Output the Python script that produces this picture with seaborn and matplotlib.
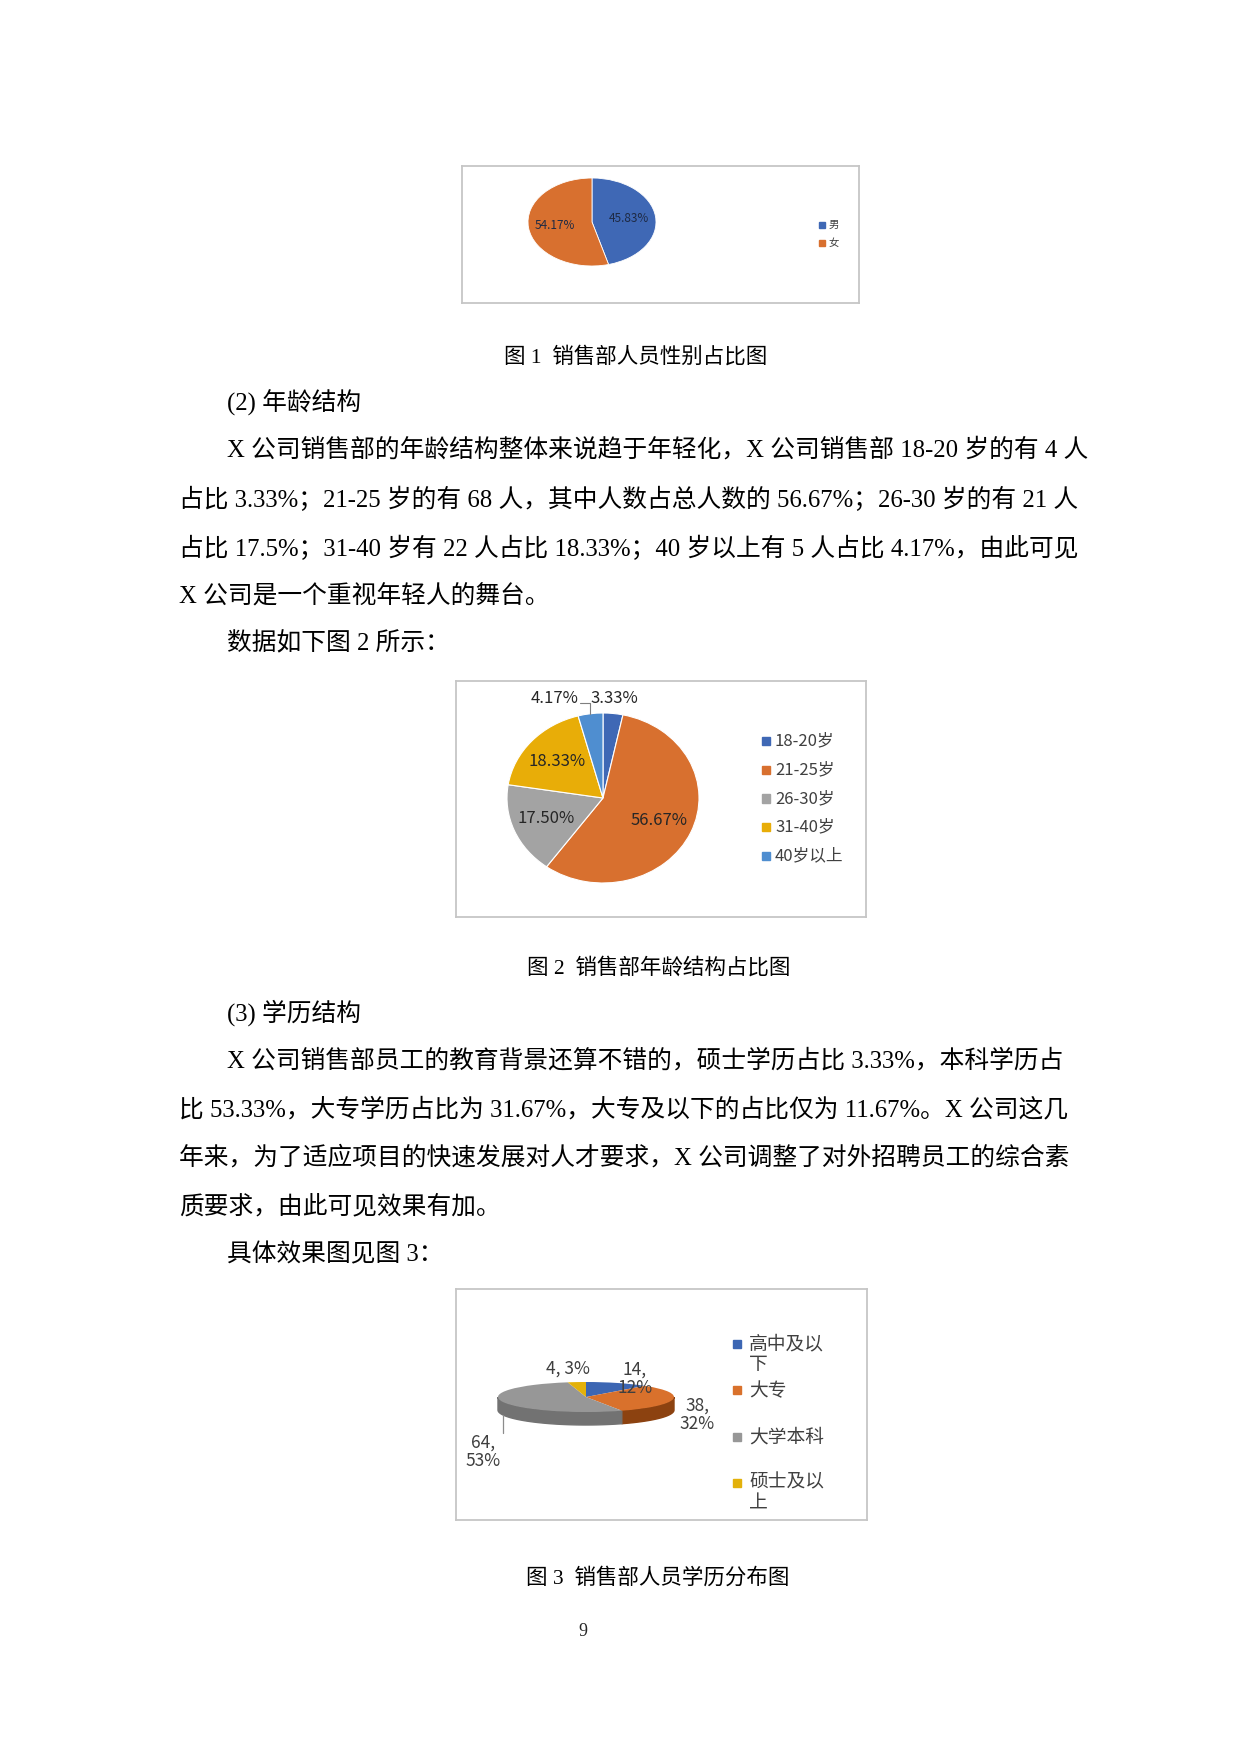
import numpy as np
import seaborn as sns
from matplotlib import pyplot as plt
from matplotlib.patches import Rectangle, Polygon

W, H = 1240, 1754

# 图1 销售部人员性别占比
gender_labels = ['男', '女']
gender_pct = [45.83, 54.17]
gender_colors = ['#3F68B5', '#D8702F']

# 图2 销售部年龄结构占比
age_labels = ['18-20岁', '21-25岁', '26-30岁', '31-40岁', '40岁以上']
age_pct = [3.33, 56.67, 17.50, 18.33, 4.17]
age_colors = ['#3F68B5', '#D8702F', '#A3A3A3', '#E8AD08', '#4F8ED0']

# 图3 销售部人员学历分布
edu_labels = ['高中及以\n下', '大专', '大学本科', '硕士及以\n上']
edu_counts = [14, 38, 64, 4]
edu_pct = [12, 32, 53, 3]
edu_colors = ['#3C66B3', '#D9712C', '#979797', '#E3B10A']
edu_side = ['#27457A', '#8C4210', '#727272', '#9A7A05']

# body text lines: (x, y, text)
body = [
    (227, 403, '(2) 年龄结构'),
    (227, 450, 'X 公司销售部的年龄结构整体来说趋于年轻化，X 公司销售部 18-20 岁的有 4 人'),
    (179, 499, '占比 3.33%；21-25 岁的有 68 人，其中人数占总人数的 56.67%；26-30 岁的有 21 人'),
    (179, 548, '占比 17.5%；31-40 岁有 22 人占比 18.33%；40 岁以上有 5 人占比 4.17%，由此可见'),
    (179, 597, 'X 公司是一个重视年轻人的舞台。'),
    (227, 644, '数据如下图 2 所示：'),
    (227, 1013, '(3) 学历结构'),
    (227, 1061, 'X 公司销售部员工的教育背景还算不错的，硕士学历占比 3.33%，本科学历占'),
    (179, 1110, '比 53.33%，大专学历占比为 31.67%，大专及以下的占比仅为 11.67%。X 公司这几'),
    (179, 1158, '年来，为了适应项目的快速发展对人才要求，X 公司调整了对外招聘员工的综合素'),
    (179, 1207, '质要求，由此可见效果有加。'),
    (227, 1255, '具体效果图见图 3：'),
]
captions = [
    (504, 357, '图 1  销售部人员性别占比图'),
    (527, 968, '图 2  销售部年龄结构占比图'),
    (526, 1578, '图 3  销售部人员学历分布图'),
]

sns.set_theme(style='white')
plt.rcParams['font.family'] = ['Noto Sans CJK SC', 'DejaVu Sans']
serif = ['Liberation Serif', 'Noto Sans CJK SC']

fig = plt.figure(figsize=(12.4, 17.54), dpi=100, facecolor='white')


def fx(x):
    return x / W


def fy(y):
    return 1 - y / H


def px_axes(x0, y0, x1, y1):
    return fig.add_axes([fx(x0), fy(y1), (x1 - x0) / W, (y1 - y0) / H])


def chart_box(x0, y0, x1, y1):
    ax = px_axes(x0, y0, x1, y1)
    ax.set_xticks([])
    ax.set_yticks([])
    for s in ax.spines.values():
        s.set_visible(True)
        s.set_color('#C6C6C6')
        s.set_linewidth(1.3)
    return ax


def legend_rows(labels, colors, x, y0, step, size, fs, gap=5, lgap=0.95, ls=1.2):
    for i, (lab, c) in enumerate(zip(labels, colors)):
        y = y0 + i * step
        fig.patches.append(Rectangle((fx(x - size / 2), fy(y + size / 2)), size / W, size / H,
                                     transform=fig.transFigure, color=c, figure=fig))
        n = lab.count('\n')
        fig.text(fx(x + size / 2 + gap), fy(y + n * fs * lgap), lab, fontsize=fs,
                 va='center', ha='left', color='#404040', linespacing=ls)


# text
for x, y, t in body:
    fig.text(fx(x), fy(y), t, fontsize=17.8, family=serif, va='center', ha='left', color='black')
for x, y, t in captions:
    fig.text(fx(x), fy(y), t, fontsize=15.5, family=serif, va='center', ha='left', color='black')
fig.text(fx(583), fy(1632), '9', fontsize=13, family=serif, va='center', ha='center')

# ---- 图1
chart_box(462, 166, 859, 303)
ax1 = px_axes(528, 178, 656, 266)
ax1.pie(gender_pct, colors=gender_colors, startangle=90, counterclock=False,
        autopct='%.2f%%', pctdistance=0.58,
        wedgeprops=dict(edgecolor='white', linewidth=0.6),
        textprops=dict(fontsize=8.5, color='#1E2A44'))
ax1.set_aspect('auto')
ax1.set_xlim(-1, 1)
ax1.set_ylim(-1, 1)
legend_rows(gender_labels, gender_colors, 822, 225, 18, 6, 7.5, gap=4)

# ---- 图2
chart_box(456, 681, 866, 917)
ax2 = px_axes(507, 713, 699, 883)
ax2.pie(age_pct, colors=age_colors, startangle=90, counterclock=False,
        autopct=lambda p: f'{p:.2f}%' if p > 5 else '', pctdistance=0.64,
        wedgeprops=dict(edgecolor='white', linewidth=0.8),
        textprops=dict(fontsize=12, color='#262626'))
ax2.set_aspect('auto')
ax2.set_xlim(-1, 1)
ax2.set_ylim(-1, 1)
cum = np.cumsum([0] + age_pct[:-1])
mids = np.radians(90 - 3.6 * (cum + np.array(age_pct) / 2))
# small slices labelled outside
ax2.text(0.12, 1.17, f'{age_pct[0]:.2f}%', fontsize=12, color='#262626', ha='center', va='center')
ax2.text(-0.26, 1.17, f'{age_pct[4]:.2f}%', fontsize=12, color='#262626', ha='right', va='center')
mx, my = np.cos(mids[4]), np.sin(mids[4])
ax2.plot([-0.24, mx, mx], [1.12, 1.12, my], color='#7F7F7F', lw=0.8, clip_on=False)
legend_rows(age_labels, age_colors, 766, 741, 28.75, 8, 12)

# ---- 图3 (flattened 3D pie)
chart_box(456, 1289, 867, 1520)
rx, ry, depth = 88, 15, 13
d = depth / ry
ax3 = px_axes(586 - rx, 1397 - ry, 586 + rx, 1397 + ry + depth)
ax3.pie(edu_counts, colors=edu_colors, startangle=90, counterclock=False,
        wedgeprops=dict(edgecolor='none'))
ax3.set_aspect('auto')
ax3.set_xlim(-1, 1)
ax3.set_ylim(-1 - d, 1)
frac = np.array(edu_counts) / sum(edu_counts)
ends = 90 - 360 * np.cumsum(frac)
starts = np.r_[90, ends[:-1]]
for a0, a1, c in zip(starts, ends, edu_side):
    for off in (0, -360, 360):
        lo, hi = max(a1 + off, -180), min(a0 + off, 0)
        if hi > lo:
            t = np.radians(np.linspace(lo, hi, 80))
            xs = np.r_[np.cos(t), np.cos(t[::-1])]
            ys = np.r_[np.sin(t), np.sin(t[::-1]) - d]
            ax3.add_patch(Polygon(np.c_[xs, ys], closed=True, color=c, zorder=0.5, clip_on=False))
lt = np.radians(-160)
ax3.plot([np.cos(lt)] * 2, [np.sin(lt) - d, -2.4], color='#8C8C8C', lw=0.9, clip_on=False)

edu_text_pos = [(635, 1379), (697, 1415), (483, 1452), (568, 1369)]
for (x, y), c, p in zip(edu_text_pos, edu_counts, edu_pct):
    s = f'{c}, {p}%' if p < 5 else f'{c},\n{p}%'
    fig.text(fx(x), fy(y), s, fontsize=12.5, color='#3F3F3F', ha='center', va='center',
             linespacing=1.05)
legend_rows(edu_labels, edu_colors, 737, 1344, 46.3, 8, 13.5, gap=8, lgap=0.74, ls=1.0)

fig.savefig('out.png', dpi=100, facecolor='white')
